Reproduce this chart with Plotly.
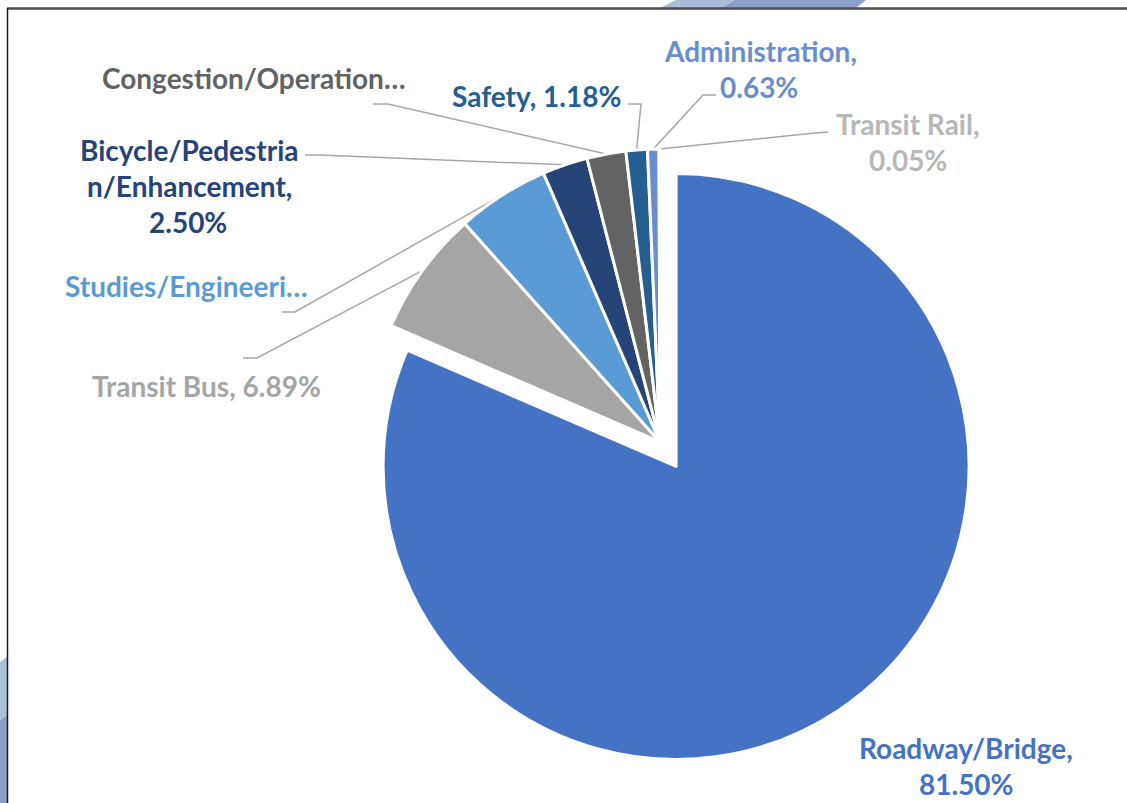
import math
import plotly.graph_objects as go

# ---------------- data ----------------
categories = ["Roadway/Bridge", "Transit Bus", "Studies/Engineering",
              "Bicycle/Pedestrian/Enhancement", "Congestion/Operations",
              "Safety", "Administration", "Transit Rail"]
shares = [81.50, 6.89, 5.10, 2.50, 2.15, 1.18, 0.63, 0.05]
colors = ["#4472C4", "#A5A5A5", "#5B9BD5", "#264478",
          "#636363", "#255E91", "#698ED0", "#B7B7B7"]
pulls = [0.1, 0, 0, 0, 0, 0, 0, 0]

# label text lines ({p} = formatted percentage)
label_lines = {
    "Roadway/Bridge": ["Roadway/Bridge,", "{p}"],
    "Transit Bus": ["Transit Bus, {p}"],
    "Studies/Engineering": ["Studies/Engineeri…"],
    "Bicycle/Pedestrian/Enhancement": ["Bicycle/Pedestria", "n/Enhancement,", "{p}"],
    "Congestion/Operations": ["Congestion/Operation…"],
    "Safety": ["Safety, {p}"],
    "Administration": ["Administration,", "{p}"],
    "Transit Rail": ["Transit Rail,", "{p}"],
}

# ---------------- layout (pixels) ----------------
W, H = 1127, 803
CX, CY, R = 660, 442, 293          # pie centre and radius in pixels

label_pos = {
    "Roadway/Bridge": [(966, 748), (966, 784)],
    "Transit Bus": [(206, 386)],
    "Studies/Engineering": [(186, 286)],
    "Bicycle/Pedestrian/Enhancement": [(189, 150), (189, 186), (188, 222)],
    "Congestion/Operations": [(254, 78)],
    "Safety": [(536, 96)],
    "Administration": [(760, 51), (759, 87)],
    "Transit Rail": [(908, 124), (908, 160)],
}
leader_start = {
    "Transit Bus": [(243, 358), (257, 358)],
    "Studies/Engineering": [(282, 312), (295, 312)],
    "Bicycle/Pedestrian/Enhancement": [(305, 155), (320, 155)],
    "Congestion/Operations": [(373, 104), (388, 104)],
    "Safety": [(628, 104), (641, 104)],
    "Administration": [(716, 95), (703, 95)],
    "Transit Rail": [(828, 132), (815, 133)],
}
FONT = "Lato"
FSIZE = 28
LEADER_COLOR = "#A6A6A6"

# pie domain so that radius = R (plotly shrinks radius by 1+max pull)
half = R * (1 + max(pulls))
dom_x = [(CX - half) / W, (CX + half) / W]
dom_y = [1 - (CY + half) / H, 1 - (CY - half) / H]

fig = go.Figure()

# leader lines, ending at the slice edge mid-points computed from the data
total = sum(shares)
cum = 0.0
lx, ly = [], []
for cat, v in zip(categories, shares):
    mid = (cum + v / 2) / total * 2 * math.pi
    cum += v
    if cat not in leader_start:
        continue
    ex = CX + R * math.sin(mid)
    ey = CY - R * math.cos(mid)
    for (px, py) in leader_start[cat]:
        lx.append(px)
        ly.append(py)
    lx += [ex, None]
    ly += [ey, None]

fig.add_trace(go.Scatter(x=lx, y=ly, mode="lines",
                         line=dict(color=LEADER_COLOR, width=1.5),
                         hoverinfo="skip", showlegend=False))

fig.add_trace(go.Pie(
    labels=categories, values=shares, sort=False, direction="clockwise",
    rotation=0, pull=pulls, textinfo="none",
    marker=dict(colors=colors, line=dict(color="#FFFFFF", width=3)),
    domain=dict(x=dom_x, y=dom_y), showlegend=False,
))

# labels
annotations = []
for cat, v, c in zip(categories, shares, colors):
    ptxt = f"{v:.2f}%"
    for line, (px, py) in zip(label_lines[cat], label_pos[cat]):
        annotations.append(dict(
            x=px, y=py, xref="x", yref="y", text=line.replace("{p}", ptxt),
            showarrow=False, xanchor="center", yanchor="middle",
            font=dict(family=FONT, size=FSIZE, color=c, weight="bold"),
        ))

shapes = [
    # slide decorations
    dict(type="path", path="M 660 8 L 676 0 L 735 0 L 721 8 Z",
         fillcolor="#A9BDD9", line=dict(width=0), xref="x", yref="y", layer="below"),
    dict(type="path", path="M 721 8 L 735 0 L 866 0 L 856 8 Z",
         fillcolor="#8A9EC6", line=dict(width=0), xref="x", yref="y", layer="below"),
    dict(type="path", path="M 0 662 L 7 657 L 7 715 L 0 720 Z",
         fillcolor="#A9C0D9", line=dict(width=0), xref="x", yref="y", layer="below"),
    dict(type="path", path="M 0 720 L 7 715 L 7 803 L 0 803 Z",
         fillcolor="#8A9DC3", line=dict(width=0), xref="x", yref="y", layer="below"),
    # frame
    dict(type="line", x0=7, y0=8.5, x1=W, y1=8.5, xref="x", yref="y",
         line=dict(color="#4D4D4D", width=2.5)),
    dict(type="line", x0=7.5, y0=8, x1=7.5, y1=H, xref="x", yref="y",
         line=dict(color="#1A1A1A", width=1.5)),
]

fig.update_layout(
    width=W, height=H, margin=dict(l=0, r=0, t=0, b=0),
    paper_bgcolor="white", plot_bgcolor="white",
    xaxis=dict(range=[0, W], visible=False, domain=[0, 1], fixedrange=True),
    yaxis=dict(range=[H, 0], visible=False, domain=[0, 1], fixedrange=True),
    annotations=annotations, shapes=shapes, showlegend=False,
)

fig.write_html(
    "out.html",
    config={"displayModeBar": False},
    post_script="document.body.style.margin='0';document.body.style.overflow='hidden';",
)
